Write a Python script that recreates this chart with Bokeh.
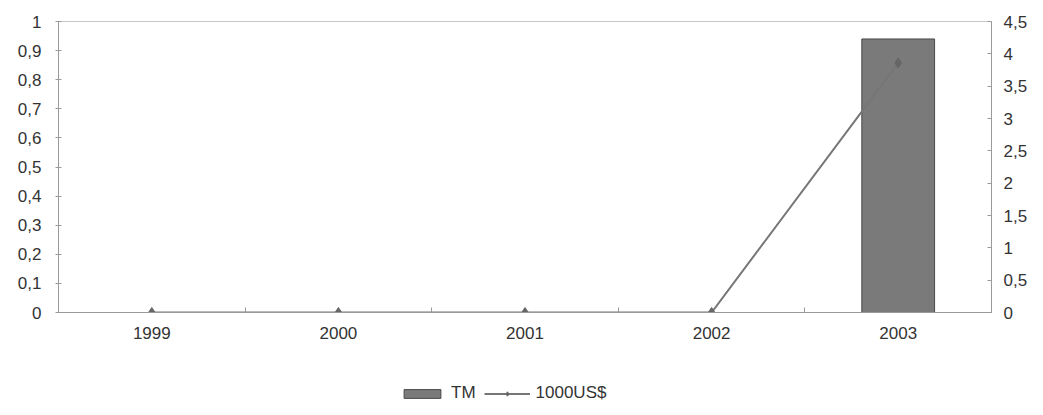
from bokeh.plotting import figure
from bokeh.models import (Range1d, LinearAxis, FixedTicker, Legend, LegendItem,
                          ColumnDataSource)
from bokeh.layouts import column
from bokeh.embed import file_html
from bokeh.resources import INLINE

# Data
years = ["1999", "2000", "2001", "2002", "2003"]
tm = [0, 0, 0, 0, 0.94]            # left axis (TM)
usd = [0, 0, 0, 0, 3.86]           # right axis (1000US$)
left_ticks = [0, 0.1, 0.2, 0.3, 0.4, 0.5, 0.6, 0.7, 0.8, 0.9, 1]
right_ticks = [0, 0.5, 1, 1.5, 2, 2.5, 3, 3.5, 4, 4.5]

FONT = "Liberation Sans"
TXT = "#333333"
FS = "17px"
W, H_MAIN, H_LEG = 1043, 370, 45

xc = [i + 0.5 for i in range(len(years))]
src = ColumnDataSource(dict(x=xc, tm=tm, usd=usd))


def fmt(v):
    return ("%g" % v).replace(".", ",")


def add_series(fig):
    b = fig.vbar(x="x", top="tm", width=0.39, source=src,
                 fill_color="#7a7a7a", line_color="#4a4a4a", line_width=1)
    l = fig.line(x="x", y="usd", source=src, y_range_name="usd",
                 line_color="#767676", line_width=2)
    s = fig.scatter(x="x", y="usd", source=src, y_range_name="usd",
                    marker="diamond", size=10, fill_color="#666666",
                    line_color="#666666")
    return b, l, s


# ---- main chart ----
p = figure(width=W, height=H_MAIN, output_backend="svg", toolbar_location=None,
           x_range=Range1d(0, len(years)), y_range=Range1d(0, 1),
           min_border_left=58, min_border_right=52, min_border_top=21,
           min_border_bottom=58)
p.extra_y_ranges = {"usd": Range1d(0, 4.5)}
p.grid.visible = False
p.outline_line_color = "#c8c8c8"
p.border_fill_color = "white"
add_series(p)

# x axis: labels at category centres, small ticks on category boundaries
xa = p.xaxis[0]
xa.ticker = FixedTicker(ticks=xc, minor_ticks=[1, 2, 3, 4])
xa.major_label_overrides = {x: y for x, y in zip(xc, years)}
xa.major_tick_line_color = None
xa.minor_tick_in = 5
xa.minor_tick_out = 0
xa.minor_tick_line_color = "#9a9a9a"
xa.axis_line_color = "#9a9a9a"
xa.major_label_standoff = 8
xa.major_label_text_font = FONT
xa.major_label_text_font_size = FS
xa.major_label_text_color = TXT

ya = p.yaxis[0]
ya.ticker = FixedTicker(ticks=left_ticks)
ya.major_label_overrides = {t: fmt(t) for t in left_ticks}
ya.major_tick_in = 3
ya.major_tick_out = 3
ya.minor_tick_line_color = None
ya.major_tick_line_color = "#9a9a9a"
ya.axis_line_color = "#9a9a9a"
ya.major_label_standoff = 14
ya.major_label_text_font = FONT
ya.major_label_text_font_size = FS
ya.major_label_text_color = TXT

ra = LinearAxis(y_range_name="usd", ticker=FixedTicker(ticks=right_ticks))
ra.major_label_overrides = {t: fmt(t) for t in right_ticks}
ra.major_tick_in = 4
ra.major_tick_out = 0
ra.minor_tick_line_color = None
ra.major_tick_line_color = "#9a9a9a"
ra.axis_line_color = "#9a9a9a"
ra.major_label_standoff = 12
ra.major_label_text_font = FONT
ra.major_label_text_font_size = FS
ra.major_label_text_color = TXT
p.add_layout(ra, "right")

# ---- legend strip: same series, ranges placed away from the data ----
lp = figure(width=W, height=H_LEG, output_backend="svg", toolbar_location=None,
            x_range=Range1d(100, 101), y_range=Range1d(100, 101),
            min_border=0, x_axis_location=None, y_axis_location=None)
lp.extra_y_ranges = {"usd": Range1d(100, 101)}
lp.grid.visible = False
lp.outline_line_color = None
lb, ll, ls = add_series(lp)

legend = Legend(items=[LegendItem(label="TM", renderers=[lb]),
                       LegendItem(label="1000US$", renderers=[ll, ls])],
                orientation="horizontal", location=(341, 12),
                border_line_color=None, background_fill_alpha=0,
                glyph_width=46, glyph_height=11, spacing=8,
                label_text_font=FONT, label_text_font_size=FS,
                label_text_color=TXT, padding=0, margin=0,
                label_standoff=6)
lp.add_layout(legend, "center")

open("out.html", "w").write(file_html(column(p, lp, spacing=0), INLINE))
